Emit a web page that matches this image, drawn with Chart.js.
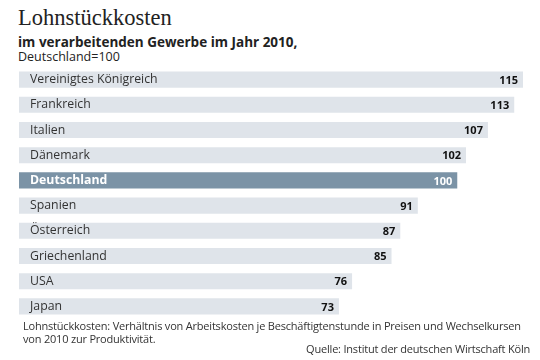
<!DOCTYPE html>
<html>
<head>
<meta charset="utf-8">
<script src="https://cdn.jsdelivr.net/npm/chart.js@4.4.0/dist/chart.umd.min.js"></script>
<style>
  body { margin: 0; width: 540px; height: 360px; background: #fff; position: relative; overflow: hidden; font-family: "Open Sans", sans-serif; color: #222; }
  #title { position: absolute; left: 18px; top: 5px; font-family: "Liberation Serif", serif; font-size: 22.5px; color: #222; }
  #sub { position: absolute; left: 18px; top: 33px; font-size: 13.5px; font-weight: bold; }
  #sub2 { position: absolute; left: 18px; top: 48px; font-size: 12.5px; }
  #wrap { position: absolute; left: 0; top: 67px; width: 540px; height: 252px; }
  #note { position: absolute; left: 23px; top: 319px; font-size: 11px; line-height: 13px; letter-spacing: -0.2px; color: #333; white-space: nowrap; }
  #src { position: absolute; right: 10px; top: 341px; font-size: 11px; letter-spacing: -0.2px; color: #333; white-space: nowrap; }
</style>
</head>
<body>
<div id="title">Lohnstückkosten</div>
<div id="sub">im verarbeitenden Gewerbe im Jahr 2010,</div>
<div id="sub2">Deutschland=100</div>
<div id="wrap"><canvas id="barChart"></canvas></div>
<div id="note">Lohnstückkosten: Verhältnis von Arbeitskosten je Beschäftigtenstunde in Preisen und Wechselkursen<br>von 2010 zur Produktivität.</div>
<div id="src">Quelle: Institut der deutschen Wirtschaft Köln</div>
<script>
var countries = ['Vereinigtes Königreich', 'Frankreich', 'Italien', 'Dänemark', 'Deutschland', 'Spanien', 'Österreich', 'Griechenland', 'USA', 'Japan'];
var values    = [115, 113, 107, 102, 100, 91, 87, 85, 76, 73];
var highlight = 'Deutschland';

// labels drawn inside the bars
var barLabels = {
    id: 'barLabels',
    afterDatasetsDraw: function(chart) {
        var ctx = chart.ctx;
        var meta = chart.getDatasetMeta(0);
        var left = chart.chartArea.left;
        ctx.save();
        ctx.textBaseline = 'middle';
        meta.data.forEach(function(bar, i) {
            var hi = countries[i] === highlight;
            ctx.fillStyle = hi ? '#fff' : '#333';
            ctx.font = (hi ? 'bold ' : '') + '12.3px "Open Sans"';
            ctx.textAlign = 'left';
            ctx.fillText(countries[i], left + 11, bar.y);
            ctx.font = 'bold 11px "Open Sans"';
            ctx.fillStyle = hi ? '#fff' : '#111';
            ctx.textAlign = 'right';
            ctx.fillText(values[i], bar.x - 5, bar.y + 1);
        });
        ctx.restore();
    }
};

new Chart(document.getElementById('barChart').getContext('2d'), {
    type: 'bar',
    data: {
        labels: countries,
        datasets: [{
            data: values,
            backgroundColor: countries.map(function(c) { return c === highlight ? '#7b93a6' : '#dfe4ea'; }),
            borderWidth: 0,
            categoryPercentage: 1,
            barPercentage: 0.64
        }]
    },
    options: {
        indexAxis: 'y',
        responsive: true,
        maintainAspectRatio: false,
        animation: false,
        layout: { padding: { left: 19, right: 17, top: 0, bottom: 0 } },
        plugins: { legend: { display: false }, tooltip: { enabled: false } },
        scales: {
            x: { display: false, min: 0, max: 115 },
            y: { display: false }
        }
    },
    plugins: [barLabels]
});
</script>
</body>
</html>
